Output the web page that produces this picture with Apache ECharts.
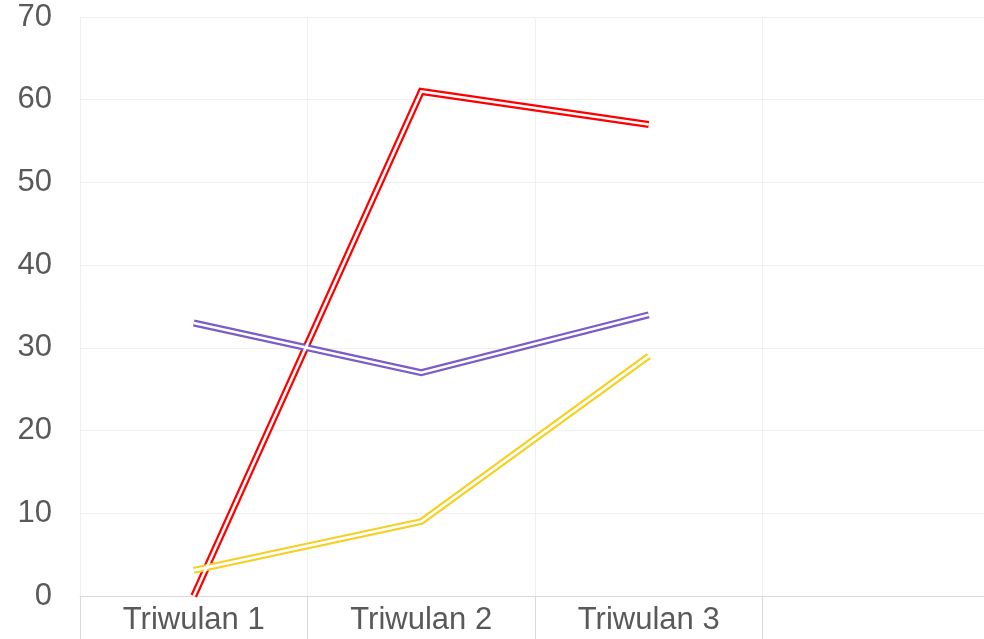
<!DOCTYPE html>
<html>
<head>
<meta charset="utf-8">
<script src="https://cdn.jsdelivr.net/npm/echarts@6/dist/echarts.min.js"></script>
<style>
  html, body { margin: 0; padding: 0; background: #fff; }
  #main { width: 984px; height: 639px; }
</style>
</head>
<body>
<div id="main"></div>
<script>
const categories = ['Triwulan 1', 'Triwulan 2', 'Triwulan 3', '']
const redValues = [0, 61, 57]
const purpleValues = [33, 27, 34]
const yellowValues = [3.1, 9, 29]

const lines = [
  { name: 'Merah', color: '#ff0000', data: redValues },
  { name: 'Ungu', color: '#7b5cc8', data: purpleValues },
  { name: 'Kuning', color: '#f5cf22', data: yellowValues }
]

// double line look: thick coloured stroke with a thin white stroke on top
const GetSeries = () => {
  const out = []
  lines.forEach(l => {
    out.push({
      name: l.name,
      type: 'line',
      data: l.data,
      symbol: 'none',
      silent: true,
      lineStyle: { color: l.color, width: 7, cap: 'butt', join: 'miter' }
    })
  })
  lines.forEach(l => {
    out.push({
      name: l.name + '-in',
      type: 'line',
      data: l.data,
      symbol: 'none',
      silent: true,
      lineStyle: { color: '#ffffff', width: 2.6, cap: 'butt', join: 'miter' }
    })
  })
  return out
}

const options = {
  animation: false,
  grid: { left: 80, top: 17, width: 910, height: 579, outerBoundsMode: 'none' },
  xAxis: {
    type: 'category',
    data: categories,
    boundaryGap: true,
    axisLine: { lineStyle: { color: '#d9d9d9', width: 1 } },
    axisTick: { show: true, length: 50, lineStyle: { color: '#d9d9d9' } },
    splitLine: { show: true, lineStyle: { color: '#f0f0f0' } },
    axisLabel: { fontFamily: 'Liberation Sans, Arial', fontSize: 31, color: '#595959', margin: 9 }
  },
  yAxis: {
    type: 'value',
    min: 0,
    max: 70,
    interval: 10,
    axisLine: { show: false },
    axisTick: { show: false },
    splitLine: { lineStyle: { color: '#f0f0f0' } },
    axisLabel: { fontFamily: 'Liberation Sans, Arial', fontSize: 31, color: '#595959', margin: 28, padding: [5, 0, 0, 0] }
  },
  series: GetSeries()
}

const ChartEl = echarts.init(document.getElementById('main'))
ChartEl.setOption(options)
</script>
</body>
</html>
